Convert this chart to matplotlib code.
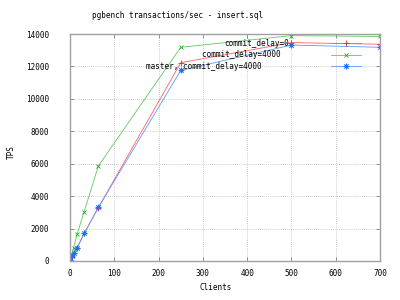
import matplotlib
matplotlib.use("Agg")
import matplotlib.pyplot as plt

# -----------------------------
# Data
# -----------------------------
clients = [1, 4, 8, 16, 32, 64, 250, 500, 700]
tps_delay0 = [50, 270, 500, 820, 1710, 3290, 12230, 13470, 13370]
tps_delay4000 = [60, 380, 800, 1650, 3050, 5860, 13180, 13900, 13850]
tps_master4000 = [50, 300, 480, 780, 1700, 3300, 11750, 13320, 13180]

labels = ["commit_delay=0", "commit_delay=4000  ", "master, commit_delay=4000      "]

x_ticks = [0, 100, 200, 300, 400, 500, 600, 700]
y_ticks = [0, 2000, 4000, 6000, 8000, 10000, 12000, 14000]

plt.rcParams['font.family'] = ['DejaVu Sans Mono']
fs = 5.5

fig = plt.figure(figsize=(4, 3), dpi=100)
ax = fig.add_axes([70 / 400, 39 / 300, 310 / 400, 227 / 300])

ax.plot(clients, tps_delay0, color='#ff6060', lw=0.6, marker='+', ms=4, mew=0.6,
        mec='#ff2020', label=labels[0])
ax.plot(clients, tps_delay4000, color='#60c860', lw=0.6, marker='x', ms=3.5, mew=0.6,
        mec='#20b020', label=labels[1])
ax.plot(clients, tps_master4000, color='#6098ff', lw=0.6, marker=(8, 2, 0), ms=4, mew=0.6,
        mec='#2070ff', label=labels[2])

ax.set_xlim(0, 700)
ax.set_ylim(0, 14000)
ax.set_xticks(x_ticks)
ax.set_yticks(y_ticks)
ax.tick_params(direction='in', top=True, right=True, length=3, width=0.6,
               color='#808080', labelsize=fs)
ax.tick_params(axis='y', pad=15)
ax.tick_params(axis='x', pad=6)

ax.grid(True, color='#a0a0a0', linestyle=(0, (1, 2)), linewidth=0.5)
for s in ax.spines.values():
    s.set_color('#a0a0a0')
    s.set_linewidth(1)

fig.text(177.5 / 400, 1 - 15 / 300, "pgbench transactions/sec - insert.sql",
         ha='center', va='center', fontsize=fs)
fig.text(216 / 400, 1 - 288 / 300, "Clients", ha='center', va='center', fontsize=fs)
fig.text(11 / 400, 1 - 152 / 300, "TPS", ha='center', va='center', fontsize=fs, rotation=90)

ax.legend(loc='upper right', bbox_to_anchor=((365 - 70) / 310, (261 - 35) / 227),
          frameon=False, markerfirst=False, fontsize=fs, borderpad=0,
          handlelength=3.9, handletextpad=5.5, labelspacing=0.35)

plt.savefig("out.png", dpi=100)
